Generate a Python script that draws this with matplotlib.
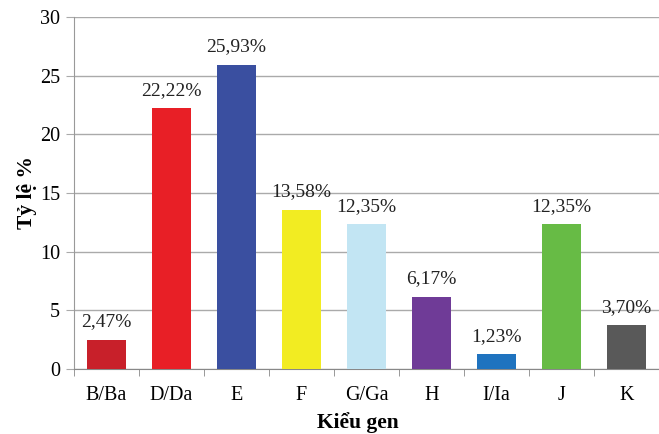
import matplotlib.pyplot as plt

# data
genotypes = ["B/Ba", "D/Da", "E", "F", "G/Ga", "H", "I/Ia", "J", "K"]
percent = [2.47, 22.22, 25.93, 13.58, 12.35, 6.17, 1.23, 12.35, 3.70]
colors = ["#c8202a", "#e81f26", "#3a4fa0", "#f2ec22", "#c2e5f3",
          "#6f3b97", "#1f73bf", "#67bb45", "#595959"]

plt.rcParams["font.family"] = ["Liberation Serif", "DejaVu Serif"]

fig = plt.figure(figsize=(6.59, 4.34), dpi=100)
ax = fig.add_axes([0.112, 0.150, 0.888, 0.811])

x = range(len(genotypes))
ax.bar(x, percent, width=0.6, color=colors, zorder=3)

for xi, v in zip(x, percent):
    ax.text(xi, v + 0.8, f"{v:.2f}%".replace(".", ","), ha="center", va="bottom",
            fontsize=14, color="#222222")

ax.set_ylim(0, 30)
ax.set_yticks(range(0, 31, 5))
ax.set_xlim(-0.5, 8.43)
ax.set_xticks(list(x))
ax.set_xticklabels(genotypes, fontsize=14.5)
ax.set_xticks([i - 0.5 for i in range(len(genotypes) + 1)], minor=True)
ax.tick_params(axis="x", which="major", length=0, pad=12)
ax.tick_params(axis="x", which="minor", length=5, color="#888888")
ax.tick_params(axis="y", length=6, color="#aaaaaa", labelsize=14.5, pad=4)

ax.grid(axis="y", color="#aaaaaa", linewidth=1, zorder=0)
for s in ["top", "right"]:
    ax.spines[s].set_visible(False)
ax.spines["left"].set_color("#999999")
ax.spines["bottom"].set_color("#888888")

ax.set_ylabel("Tỷ lệ %", fontsize=15.5, fontweight="bold", labelpad=2)
ax.set_xlabel("Kiểu gen", fontsize=15.5, fontweight="bold")
ax.xaxis.set_label_coords(0.486, -0.122)

fig.savefig("out.png", dpi=100)
